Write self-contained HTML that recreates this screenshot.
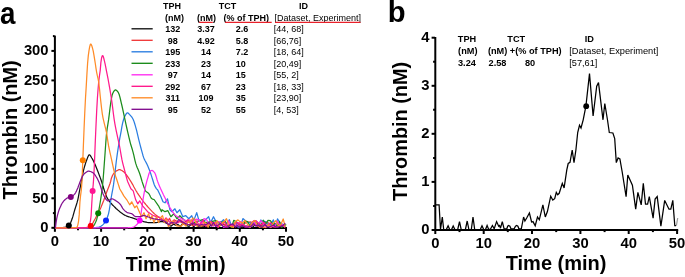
<!DOCTYPE html>
<html><head><meta charset="utf-8"><title>Thrombin generation</title>
<style>
html,body{margin:0;padding:0;background:#fff;}
svg{display:block;will-change:transform;font-family:"Liberation Sans",sans-serif;}
.tk{font-weight:bold;font-size:14.8px;fill:#000;}
.ax{font-weight:bold;font-size:19.6px;fill:#000;}
.lb{font-weight:bold;font-size:9px;fill:#000;}
.lr{font-size:9px;fill:#000;}
.pl{font-weight:bold;fill:#000;}
</style></head>
<body>
<svg width="685" height="277" viewBox="0 0 685 277">
<rect width="685" height="277" fill="#fff"/>
<!-- panel a -->
<text transform="translate(0.1,23.8) scale(0.925,1.035)" class="pl" font-size="30">a</text>
<path d="M54.9,35.6 V228.9" stroke="#000" stroke-width="2" fill="none"/>
<path d="M53.9,228.0 H287.0" stroke="#000" stroke-width="2" fill="none"/>
<path d="M51.4,227.8 H54.6" stroke="#000" stroke-width="2"/>
<text x="48.6" y="232.0" text-anchor="end" class="tk">0</text>
<path d="M51.4,198.3 H54.6" stroke="#000" stroke-width="2"/>
<text x="48.6" y="202.5" text-anchor="end" class="tk">50</text>
<path d="M51.4,168.8 H54.6" stroke="#000" stroke-width="2"/>
<text x="48.6" y="173.0" text-anchor="end" class="tk">100</text>
<path d="M51.4,139.3 H54.6" stroke="#000" stroke-width="2"/>
<text x="48.6" y="143.5" text-anchor="end" class="tk">150</text>
<path d="M51.4,109.9 H54.6" stroke="#000" stroke-width="2"/>
<text x="48.6" y="114.1" text-anchor="end" class="tk">200</text>
<path d="M51.4,80.4 H54.6" stroke="#000" stroke-width="2"/>
<text x="48.6" y="84.6" text-anchor="end" class="tk">250</text>
<path d="M51.4,50.9 H54.6" stroke="#000" stroke-width="2"/>
<text x="48.6" y="55.1" text-anchor="end" class="tk">300</text>
<path d="M52.9,213.1 H54.6" stroke="#000" stroke-width="2"/>
<path d="M52.9,183.6 H54.6" stroke="#000" stroke-width="2"/>
<path d="M52.9,154.1 H54.6" stroke="#000" stroke-width="2"/>
<path d="M52.9,124.6 H54.6" stroke="#000" stroke-width="2"/>
<path d="M52.9,95.1 H54.6" stroke="#000" stroke-width="2"/>
<path d="M52.9,65.6 H54.6" stroke="#000" stroke-width="2"/>
<path d="M52.9,36.1 H54.6" stroke="#000" stroke-width="2"/>
<path d="M54.9,228 V231.8" stroke="#000" stroke-width="2"/>
<text x="54.9" y="245.6" text-anchor="middle" class="tk">0</text>
<path d="M101.1,228 V231.8" stroke="#000" stroke-width="2"/>
<text x="101.1" y="245.6" text-anchor="middle" class="tk">10</text>
<path d="M147.3,228 V231.8" stroke="#000" stroke-width="2"/>
<text x="147.3" y="245.6" text-anchor="middle" class="tk">20</text>
<path d="M193.6,228 V231.8" stroke="#000" stroke-width="2"/>
<text x="193.6" y="245.6" text-anchor="middle" class="tk">30</text>
<path d="M239.8,228 V231.8" stroke="#000" stroke-width="2"/>
<text x="239.8" y="245.6" text-anchor="middle" class="tk">40</text>
<path d="M286.0,228 V231.8" stroke="#000" stroke-width="2"/>
<text x="286.0" y="245.6" text-anchor="middle" class="tk">50</text>
<path d="M78.0,228 V230.3" stroke="#000" stroke-width="2"/>
<path d="M124.2,228 V230.3" stroke="#000" stroke-width="2"/>
<path d="M170.4,228 V230.3" stroke="#000" stroke-width="2"/>
<path d="M216.7,228 V230.3" stroke="#000" stroke-width="2"/>
<path d="M262.9,228 V230.3" stroke="#000" stroke-width="2"/>
<g>
<path d="M55.4,227.8 L56.1,227.8 L56.8,227.8 L57.5,227.8 L58.2,227.8 L58.9,227.7 L59.6,227.7 L60.3,227.7 L61.0,227.7 L61.7,227.6 L62.4,227.6 L63.1,227.5 L63.8,227.4 L64.5,227.3 L65.2,227.2 L65.9,227.0 L66.6,226.8 L67.3,226.5 L68.0,226.2 L68.7,225.7 L69.4,224.9 L70.1,223.7 L70.8,222.2 L71.5,220.4 L72.2,218.6 L72.9,216.4 L73.6,213.9 L74.3,211.4 L75.0,209.0 L75.7,206.9 L76.4,204.7 L77.1,202.4 L77.8,199.8 L78.5,196.4 L79.2,192.6 L79.9,188.9 L80.6,185.5 L81.3,182.1 L82.0,178.3 L82.7,174.1 L83.4,170.9 L84.1,168.2 L84.8,165.7 L85.5,163.4 L86.2,161.3 L86.9,159.5 L87.6,157.6 L88.3,156.0 L89.0,154.9 L89.7,154.9 L90.4,155.7 L91.1,156.8 L91.8,158.0 L92.5,159.1 L93.2,160.5 L93.9,162.0 L94.6,163.5 L95.3,165.0 L96.0,166.7 L96.7,168.4 L97.4,170.2 L98.1,172.0 L98.8,173.9 L99.5,175.7 L100.2,177.6 L100.9,179.5 L101.6,181.6 L102.3,183.9 L103.0,186.3 L103.7,188.5 L104.4,190.6 L105.1,192.7 L105.8,194.6 L106.5,196.4 L107.2,197.9 L107.9,199.2 L108.6,200.3 L109.3,201.2 L110.0,202.1 L110.7,202.9 L111.4,203.7 L112.1,204.5 L112.8,205.2 L113.5,205.9 L114.2,206.6 L114.9,207.3 L115.6,208.0 L116.3,208.7 L117.0,209.3 L117.7,209.9 L118.4,210.6 L119.1,211.1 L119.8,211.7 L120.5,212.2 L121.2,212.8 L121.9,213.3 L122.6,213.8 L123.3,214.3 L124.0,214.7 L124.7,215.1 L125.4,215.5 L126.1,215.8 L126.8,216.1 L127.5,216.4 L128.2,216.6 L128.9,216.8 L129.6,217.0 L130.3,217.3 L131.0,217.5 L131.7,217.7 L132.4,217.9 L133.1,218.2 L133.8,218.4 L134.5,218.6 L135.2,218.9 L135.9,219.1 L136.6,219.3 L137.3,219.6 L138.0,219.8 L138.7,220.0 L139.4,220.3 L140.1,220.5 L140.8,220.8 L141.5,221.0 L142.2,221.2 L142.9,221.4 L143.6,221.6 L144.3,221.8 L145.0,221.9 L145.7,222.1 L146.4,222.2 L147.1,222.4 L147.8,222.5 L148.5,222.5 L149.2,222.6 L149.9,222.6 L150.6,222.6 L151.3,222.6 L152.0,222.6 L152.7,222.6 L153.4,222.6 L154.1,222.6 L154.8,222.6 L155.5,222.6 L156.2,222.6 L156.9,222.5 L157.6,222.3 L158.3,222.1 L159.0,222.0 L159.7,221.8 L160.4,221.7 L161.1,221.6 L161.8,221.6 L162.5,221.7 L163.2,221.8 L163.9,222.0 L164.6,222.3 L165.3,222.6 L166.0,222.9 L166.7,223.3 L167.4,223.9 L168.1,224.6 L168.8,225.3 L171.0,226.2 L173.5,224.1 L175.7,225.2 L177.9,224.6 L180.4,226.5 L182.4,224.0 L184.7,224.3 L186.6,225.6 L189.1,226.4 L191.7,223.9 L193.7,227.0 L196.0,223.8 L198.2,226.6 L200.4,227.1 L202.6,226.0 L204.9,226.7 L207.0,226.8 L209.2,226.7 L211.2,224.6 L213.5,225.5 L215.6,224.0 L218.2,227.3 L220.4,225.2 L222.8,224.3 L225.1,224.8 L227.5,226.8 L229.8,224.5 L232.4,226.1 L234.7,227.5 L236.9,224.9 L239.1,227.1 L241.4,225.3 L243.9,226.5 L246.1,226.0 L248.6,226.0 L250.8,226.1 L252.8,227.4 L255.2,224.1 L257.6,226.5 L259.7,226.1 L262.3,225.0 L264.6,224.6 L266.8,226.0 L269.4,225.8 L271.6,226.9 L274.0,224.2 L275.9,225.0 L278.5,224.5 L280.9,224.8 L283.2,225.8 L285.5,227.4" fill="none" stroke="#111111" stroke-width="1.25" stroke-linejoin="round"/>
<path d="M55.4,227.8 L56.1,227.8 L56.8,227.8 L57.5,227.8 L58.2,227.8 L58.9,227.8 L59.6,227.8 L60.3,227.8 L61.0,227.8 L61.7,227.8 L62.4,227.8 L63.1,227.8 L63.8,227.8 L64.5,227.8 L65.2,227.8 L65.9,227.8 L66.6,227.8 L67.3,227.8 L68.0,227.8 L68.7,227.8 L69.4,227.8 L70.1,227.8 L70.8,227.8 L71.5,227.8 L72.2,227.8 L72.9,227.8 L73.6,227.8 L74.3,227.8 L75.0,227.8 L75.7,227.8 L76.4,227.8 L77.1,227.8 L77.8,227.8 L78.5,227.8 L79.2,227.8 L79.9,227.8 L80.6,227.8 L81.3,227.8 L82.0,227.8 L82.7,227.7 L83.4,227.7 L84.1,227.7 L84.8,227.6 L85.5,227.5 L86.2,227.5 L86.9,227.4 L87.6,227.3 L88.3,227.1 L89.0,226.9 L89.7,226.6 L90.4,226.2 L91.1,225.7 L91.8,224.8 L92.5,223.7 L93.2,222.4 L93.9,221.0 L94.6,219.7 L95.3,218.5 L96.0,217.2 L96.7,215.9 L97.4,214.6 L98.1,213.2 L98.8,211.8 L99.5,210.4 L100.2,208.9 L100.9,207.4 L101.6,205.8 L102.3,204.1 L103.0,202.3 L103.7,200.5 L104.4,198.5 L105.1,196.6 L105.8,194.6 L106.5,192.6 L107.2,190.7 L107.9,188.9 L108.6,187.2 L109.3,185.4 L110.0,183.5 L110.7,181.2 L111.4,178.2 L112.1,176.4 L112.8,175.0 L113.5,173.8 L114.2,172.9 L114.9,172.1 L115.6,171.5 L116.3,171.0 L117.0,170.6 L117.7,170.2 L118.4,169.9 L119.1,169.7 L119.8,169.7 L120.5,169.9 L121.2,170.2 L121.9,170.5 L122.6,171.0 L123.3,171.5 L124.0,172.0 L124.7,172.7 L125.4,173.5 L126.1,174.5 L126.8,175.4 L127.5,176.4 L128.2,177.4 L128.9,178.4 L129.6,179.5 L130.3,180.6 L131.0,181.7 L131.7,182.9 L132.4,184.1 L133.1,185.3 L133.8,186.7 L134.5,188.0 L135.2,189.3 L135.9,190.5 L136.6,191.6 L137.3,192.8 L138.0,193.8 L138.7,194.9 L139.4,195.9 L140.1,196.9 L140.8,198.0 L141.5,199.0 L142.2,199.9 L142.9,200.9 L143.6,201.8 L144.3,202.7 L145.0,203.5 L145.7,204.4 L146.4,205.2 L147.1,206.0 L147.8,206.8 L148.5,207.6 L149.2,208.4 L149.9,209.1 L150.6,209.9 L151.3,210.6 L152.0,211.4 L152.7,212.1 L153.4,212.8 L154.1,213.5 L154.8,214.1 L155.5,214.7 L156.2,215.2 L156.9,215.7 L157.6,216.2 L158.3,216.7 L159.0,217.1 L159.7,217.6 L160.4,218.0 L161.1,218.4 L161.8,218.9 L162.5,219.4 L163.2,219.8 L163.9,220.3 L164.6,220.8 L165.3,221.2 L166.0,221.7 L166.7,222.1 L167.4,222.6 L169.5,218.3 L172.1,224.1 L174.1,219.7 L176.6,221.1 L178.8,221.7 L181.1,222.1 L183.2,223.2 L185.4,221.5 L188.1,220.0 L190.4,223.7 L192.5,225.9 L194.5,224.0 L196.7,224.7 L199.2,224.0 L201.6,225.9 L203.6,225.6 L205.6,224.7 L208.3,223.8 L210.3,222.3 L212.8,223.5 L215.4,223.3 L217.9,225.9 L220.6,221.8 L222.6,223.3 L225.1,225.3 L227.4,225.1 L230.0,225.1 L232.5,225.9 L235.1,222.3 L237.3,224.6 L239.9,223.6 L242.2,226.7 L244.4,223.7 L246.5,222.2 L248.6,222.2 L250.8,221.8 L253.2,225.0 L255.5,224.1 L257.9,226.2 L260.0,225.0 L262.6,224.3 L264.6,222.9 L267.1,222.2 L269.1,223.4 L271.1,224.1 L273.3,226.6 L275.8,227.2 L278.2,222.6 L280.3,226.7 L282.8,225.5 L285.3,227.4" fill="none" stroke="#f03c3c" stroke-width="1.25" stroke-linejoin="round"/>
<path d="M55.4,227.8 L56.1,227.8 L56.8,227.8 L57.5,227.8 L58.2,227.8 L58.9,227.8 L59.6,227.8 L60.3,227.8 L61.0,227.8 L61.7,227.8 L62.4,227.8 L63.1,227.8 L63.8,227.8 L64.5,227.8 L65.2,227.8 L65.9,227.8 L66.6,227.8 L67.3,227.8 L68.0,227.8 L68.7,227.8 L69.4,227.8 L70.1,227.8 L70.8,227.8 L71.5,227.8 L72.2,227.8 L72.9,227.8 L73.6,227.8 L74.3,227.8 L75.0,227.8 L75.7,227.8 L76.4,227.8 L77.1,227.8 L77.8,227.8 L78.5,227.8 L79.2,227.8 L79.9,227.8 L80.6,227.8 L81.3,227.8 L82.0,227.8 L82.7,227.8 L83.4,227.8 L84.1,227.8 L84.8,227.8 L85.5,227.8 L86.2,227.8 L86.9,227.8 L87.6,227.8 L88.3,227.8 L89.0,227.8 L89.7,227.8 L90.4,227.8 L91.1,227.8 L91.8,227.8 L92.5,227.7 L93.2,227.7 L93.9,227.7 L94.6,227.6 L95.3,227.6 L96.0,227.5 L96.7,227.4 L97.4,227.4 L98.1,227.3 L98.8,227.2 L99.5,227.0 L100.2,226.6 L100.9,226.2 L101.6,225.7 L102.3,225.2 L103.0,224.6 L103.7,223.9 L104.4,223.0 L105.1,222.1 L105.8,220.9 L106.5,219.6 L107.2,217.9 L107.9,215.8 L108.6,213.3 L109.3,209.9 L110.0,205.5 L110.7,200.9 L111.4,196.5 L112.1,192.7 L112.8,189.0 L113.5,184.9 L114.2,179.7 L114.9,173.5 L115.6,167.2 L116.3,161.2 L117.0,156.1 L117.7,151.2 L118.4,146.6 L119.1,142.3 L119.8,138.2 L120.5,134.6 L121.2,130.9 L121.9,126.7 L122.6,123.2 L123.3,120.5 L124.0,118.1 L124.7,116.4 L125.4,115.1 L126.1,114.0 L126.8,113.1 L127.5,112.8 L128.2,113.1 L128.9,113.8 L129.6,114.6 L130.3,115.3 L131.0,116.1 L131.7,116.9 L132.4,118.0 L133.1,119.2 L133.8,120.9 L134.5,123.0 L135.2,125.4 L135.9,127.8 L136.6,130.4 L137.3,133.4 L138.0,136.4 L138.7,139.3 L139.4,142.1 L140.1,144.8 L140.8,147.5 L141.5,150.1 L142.2,152.7 L142.9,155.2 L143.6,157.4 L144.3,159.1 L145.0,160.5 L145.7,161.8 L146.4,163.1 L147.1,164.6 L147.8,166.1 L148.5,167.8 L149.2,169.5 L149.9,171.3 L150.6,173.3 L151.3,175.4 L152.0,177.6 L152.7,179.7 L153.4,182.0 L154.1,184.2 L154.8,185.9 L155.5,187.2 L156.2,188.3 L156.9,189.2 L157.6,189.7 L160.6,196.0 L163.0,201.8 L165.0,202.8 L167.5,198.8 L169.9,209.7 L171.9,211.7 L174.9,208.8 L176.9,212.7 L179.8,209.7 L182.8,216.7 L185.8,215.7 L188.8,218.7 L191.7,215.7 L193.7,220.6 L196.7,212.7 L198.7,219.7 L201.6,221.6 L204.6,220.6 L208.6,216.7 L210.6,222.6 L213.5,216.7 L216.5,222.6 L219.5,223.6 L223.5,219.7 L226.4,223.6 L229.4,219.7 L231.5,226.1 L233.8,225.0 L236.2,222.6 L238.2,227.5 L240.7,225.9 L242.9,218.6 L245.1,220.4 L247.4,222.5 L249.5,222.5 L252.0,223.6 L254.5,222.1 L256.5,221.2 L258.9,225.6 L260.8,220.0 L263.1,221.6 L265.7,221.7 L268.3,224.8 L270.8,224.4 L273.4,219.9 L275.4,226.8 L277.5,218.9 L279.8,222.6 L281.9,223.8 L284.1,225.2" fill="none" stroke="#2a7de1" stroke-width="1.25" stroke-linejoin="round"/>
<path d="M55.4,227.8 L56.1,227.8 L56.8,227.8 L57.5,227.8 L58.2,227.8 L58.9,227.8 L59.6,227.8 L60.3,227.8 L61.0,227.8 L61.7,227.8 L62.4,227.8 L63.1,227.8 L63.8,227.8 L64.5,227.8 L65.2,227.8 L65.9,227.8 L66.6,227.8 L67.3,227.8 L68.0,227.8 L68.7,227.8 L69.4,227.8 L70.1,227.8 L70.8,227.8 L71.5,227.8 L72.2,227.8 L72.9,227.8 L73.6,227.8 L74.3,227.8 L75.0,227.8 L75.7,227.8 L76.4,227.8 L77.1,227.8 L77.8,227.8 L78.5,227.8 L79.2,227.8 L79.9,227.8 L80.6,227.8 L81.3,227.8 L82.0,227.8 L82.7,227.8 L83.4,227.8 L84.1,227.8 L84.8,227.8 L85.5,227.8 L86.2,227.8 L86.9,227.7 L87.6,227.7 L88.3,227.6 L89.0,227.5 L89.7,227.3 L90.4,227.2 L91.1,227.0 L91.8,226.8 L92.5,226.6 L93.2,226.2 L93.9,225.4 L94.6,224.3 L95.3,222.8 L96.0,221.2 L96.7,219.4 L97.4,216.9 L98.1,213.8 L98.8,210.4 L99.5,206.5 L100.2,202.3 L100.9,197.9 L101.6,193.1 L102.3,187.6 L103.0,180.7 L103.7,171.9 L104.4,162.3 L105.1,152.7 L105.8,142.5 L106.5,133.9 L107.2,128.4 L107.9,124.2 L108.6,119.7 L109.3,114.1 L110.0,108.2 L110.7,103.2 L111.4,98.8 L112.1,95.2 L112.8,93.2 L113.5,91.9 L114.2,90.8 L114.9,90.1 L115.6,89.9 L116.3,90.2 L117.0,90.8 L117.7,91.7 L118.4,92.7 L119.1,94.2 L119.8,96.6 L120.5,99.5 L121.2,102.6 L121.9,105.5 L122.6,108.6 L123.3,111.9 L124.0,115.2 L124.7,118.4 L125.4,121.6 L126.1,124.8 L126.8,128.0 L127.5,131.1 L128.2,134.1 L128.9,137.1 L129.6,140.0 L130.3,142.8 L131.0,145.2 L131.7,147.5 L132.4,149.8 L133.1,152.3 L133.8,155.2 L134.5,158.3 L135.2,161.3 L135.9,163.9 L136.6,165.9 L137.3,167.7 L138.0,169.3 L138.7,171.0 L139.4,172.7 L140.1,174.7 L140.8,177.0 L141.5,179.5 L142.2,181.9 L142.9,184.0 L143.6,186.0 L144.3,188.1 L145.0,189.8 L145.7,191.1 L146.4,191.8 L147.1,192.3 L147.8,192.8 L148.5,193.3 L149.2,194.2 L149.9,195.5 L150.6,197.0 L151.3,198.2 L152.0,198.8 L152.7,199.1 L153.4,199.4 L154.1,199.5 L158.5,205.8 L161.5,211.7 L162.0,209.7 L165.0,211.7 L167.9,210.7 L170.9,216.7 L173.9,213.7 L176.9,218.7 L179.8,215.7 L183.8,219.7 L187.8,221.6 L193.7,222.6 L199.7,220.6 L202.6,219.7 L205.6,222.6 L211.6,221.6 L215.5,220.6 L219.5,222.6 L225.4,221.6 L227.5,226.3 L229.5,225.1 L231.6,227.3 L233.8,220.3 L236.3,221.9 L238.4,223.9 L240.6,226.7 L242.6,226.4 L245.2,221.2 L247.7,221.5 L249.8,225.8 L252.2,222.2 L254.7,220.7 L256.8,223.3 L259.2,224.2 L261.2,224.5 L263.3,220.2 L265.8,223.8 L268.0,220.4 L270.3,220.7 L272.9,224.2 L275.1,223.4 L277.4,226.8 L279.5,221.4 L281.5,227.4 L283.9,226.0 L286.2,224.5" fill="none" stroke="#1c8c1c" stroke-width="1.25" stroke-linejoin="round"/>
<path d="M55.4,227.8 L56.1,227.8 L56.8,227.8 L57.5,227.8 L58.2,227.8 L58.9,227.8 L59.6,227.8 L60.3,227.8 L61.0,227.8 L61.7,227.8 L62.4,227.8 L63.1,227.8 L63.8,227.8 L64.5,227.8 L65.2,227.8 L65.9,227.8 L66.6,227.8 L67.3,227.8 L68.0,227.8 L68.7,227.8 L69.4,227.8 L70.1,227.8 L70.8,227.8 L71.5,227.8 L72.2,227.8 L72.9,227.8 L73.6,227.8 L74.3,227.8 L75.0,227.8 L75.7,227.8 L76.4,227.8 L77.1,227.8 L77.8,227.8 L78.5,227.8 L79.2,227.8 L79.9,227.8 L80.6,227.8 L81.3,227.8 L82.0,227.8 L82.7,227.8 L83.4,227.8 L84.1,227.8 L84.8,227.8 L85.5,227.8 L86.2,227.8 L86.9,227.8 L87.6,227.8 L88.3,227.8 L89.0,227.8 L89.7,227.8 L90.4,227.8 L91.1,227.8 L91.8,227.8 L92.5,227.8 L93.2,227.8 L93.9,227.8 L94.6,227.8 L95.3,227.8 L96.0,227.8 L96.7,227.8 L97.4,227.8 L98.1,227.8 L98.8,227.8 L99.5,227.8 L100.2,227.8 L100.9,227.8 L101.6,227.8 L102.3,227.8 L103.0,227.8 L103.7,227.8 L104.4,227.8 L105.1,227.8 L105.8,227.8 L106.5,227.8 L107.2,227.8 L107.9,227.8 L108.6,227.8 L109.3,227.8 L110.0,227.8 L110.7,227.8 L111.4,227.8 L112.1,227.8 L112.8,227.8 L113.5,227.8 L114.2,227.8 L114.9,227.8 L115.6,227.8 L116.3,227.8 L117.0,227.8 L117.7,227.8 L118.4,227.8 L119.1,227.8 L119.8,227.8 L120.5,227.8 L121.2,227.8 L121.9,227.8 L122.6,227.8 L123.3,227.8 L124.0,227.8 L124.7,227.8 L125.4,227.8 L126.1,227.8 L126.8,227.8 L127.5,227.8 L128.2,227.7 L128.9,227.7 L129.6,227.7 L130.3,227.6 L131.0,227.6 L131.7,227.5 L132.4,227.4 L133.1,227.3 L133.8,227.0 L134.5,226.6 L135.2,226.0 L135.9,225.4 L136.6,224.7 L137.3,224.0 L138.0,223.3 L138.7,222.4 L139.4,221.2 L140.1,219.2 L140.8,215.1 L141.5,210.3 L142.2,205.6 L142.9,200.5 L143.6,195.9 L144.3,192.1 L145.0,188.7 L145.7,185.6 L146.4,182.8 L147.1,180.2 L147.8,177.8 L148.5,175.3 L149.2,173.0 L149.9,171.7 L150.6,171.0 L151.3,170.5 L152.0,170.4 L152.7,170.7 L153.4,171.3 L154.1,172.1 L154.8,172.9 L155.5,174.5 L156.2,176.7 L156.9,179.2 L157.6,181.4 L158.3,183.3 L159.0,185.0 L159.7,186.7 L160.4,188.3 L161.1,189.8 L161.8,191.3 L162.5,192.8 L163.2,194.3 L163.9,195.7 L164.6,197.1 L165.3,198.6 L166.0,200.1 L166.7,201.5 L167.4,202.9 L168.1,204.2 L168.8,205.5 L169.5,206.7 L170.2,208.0 L170.9,209.2 L171.6,210.3 L172.3,211.3 L173.0,212.3 L173.7,213.3 L174.4,214.2 L175.1,215.0 L175.8,215.6 L176.5,216.1 L177.2,216.5 L177.9,216.8 L178.6,217.1 L179.3,217.5 L180.0,217.8 L180.7,218.2 L181.4,218.5 L182.1,218.9 L182.8,219.2 L183.5,219.6 L184.2,219.9 L184.9,220.2 L185.6,220.5 L186.3,220.8 L187.0,221.1 L187.7,221.3 L188.4,221.6 L189.1,221.8 L189.8,222.0 L190.5,222.3 L191.2,222.5 L194.0,220.2 L196.5,219.1 L199.1,219.9 L201.7,224.8 L203.9,218.7 L206.3,219.3 L208.4,223.1 L210.5,222.8 L212.9,226.2 L215.0,225.1 L217.5,221.8 L219.6,221.8 L221.7,223.5 L223.7,227.5 L226.3,226.6 L228.4,220.7 L230.9,226.1 L233.5,224.4 L236.0,226.6 L238.6,223.2 L241.2,221.5 L243.3,225.6 L245.4,226.9 L247.4,226.0 L249.8,227.5 L252.2,225.8 L254.4,222.1 L256.7,225.9 L259.0,223.1 L260.9,220.7 L262.9,222.7 L265.5,227.5 L268.0,225.6 L270.3,227.5 L272.3,226.7 L274.9,226.7 L277.4,221.1 L280.0,225.7 L282.2,224.5 L284.7,227.1" fill="none" stroke="#ff2cf0" stroke-width="1.25" stroke-linejoin="round"/>
<path d="M55.4,227.8 L56.1,227.8 L56.8,227.8 L57.5,227.8 L58.2,227.8 L58.9,227.8 L59.6,227.8 L60.3,227.8 L61.0,227.8 L61.7,227.8 L62.4,227.8 L63.1,227.8 L63.8,227.8 L64.5,227.8 L65.2,227.8 L65.9,227.8 L66.6,227.8 L67.3,227.8 L68.0,227.8 L68.7,227.8 L69.4,227.8 L70.1,227.8 L70.8,227.8 L71.5,227.8 L72.2,227.8 L72.9,227.8 L73.6,227.8 L74.3,227.8 L75.0,227.8 L75.7,227.8 L76.4,227.8 L77.1,227.8 L77.8,227.8 L78.5,227.8 L79.2,227.8 L79.9,227.8 L80.6,227.8 L81.3,227.8 L82.0,227.8 L82.7,227.8 L83.4,227.7 L84.1,227.7 L84.8,227.7 L85.5,227.6 L86.2,227.6 L86.9,227.5 L87.6,227.4 L88.3,227.0 L89.0,225.8 L89.7,223.8 L90.4,221.1 L91.1,215.6 L91.8,203.1 L92.5,192.2 L93.2,184.7 L93.9,175.0 L94.6,159.1 L95.3,141.3 L96.0,125.5 L96.7,110.6 L97.4,98.3 L98.1,88.7 L98.8,80.9 L99.5,75.5 L100.2,70.6 L100.9,62.4 L101.6,57.8 L102.3,55.7 L103.0,55.8 L103.7,58.0 L104.4,60.9 L105.1,63.9 L105.8,67.4 L106.5,71.1 L107.2,74.6 L107.9,78.2 L108.6,82.0 L109.3,85.9 L110.0,89.9 L110.7,94.1 L111.4,98.5 L112.1,103.4 L112.8,108.9 L113.5,114.5 L114.2,119.7 L114.9,123.9 L115.6,127.7 L116.3,131.1 L117.0,134.4 L117.7,137.7 L118.4,140.8 L119.1,144.0 L119.8,147.5 L120.5,151.5 L121.2,155.7 L121.9,159.4 L122.6,162.6 L123.3,165.4 L124.0,168.0 L124.7,170.7 L125.4,173.3 L126.1,176.0 L126.8,178.6 L127.5,181.2 L130.9,188.7 L133.2,190.9 L135.7,199.8 L137.7,203.8 L139.7,200.8 L142.6,205.8 L147.6,211.7 L153.5,215.7 L159.5,217.7 L164.0,220.5 L166.0,217.8 L168.5,220.5 L170.7,223.5 L173.1,221.1 L175.5,222.0 L178.0,222.9 L180.5,219.8 L182.8,221.5 L185.2,224.1 L187.5,219.9 L189.7,220.1 L192.1,220.0 L194.3,225.5 L196.8,220.8 L199.1,226.0 L201.2,222.6 L203.3,220.2 L205.7,226.1 L208.1,225.4 L210.7,221.3 L213.0,223.5 L215.4,222.2 L218.1,227.4 L220.3,223.9 L222.4,224.0 L224.4,221.6 L226.8,227.1 L229.2,226.0 L231.3,224.8 L233.3,226.6 L235.9,223.1 L237.8,222.4 L239.8,225.8 L242.4,223.7 L244.5,225.5 L246.8,227.0 L249.4,227.3 L251.7,222.7 L253.9,220.7 L256.0,220.7 L258.6,223.3 L261.2,225.0 L263.7,222.3 L266.0,224.9 L268.4,225.3 L270.4,222.7 L272.6,224.7 L275.1,226.8 L277.1,227.0 L279.4,225.6 L281.5,225.0 L284.1,226.3" fill="none" stroke="#ff1a8c" stroke-width="1.25" stroke-linejoin="round"/>
<path d="M55.4,227.8 L56.1,227.8 L56.8,227.8 L57.5,227.8 L58.2,227.8 L58.9,227.8 L59.6,227.8 L60.3,227.8 L61.0,227.8 L61.7,227.8 L62.4,227.8 L63.1,227.8 L63.8,227.8 L64.5,227.8 L65.2,227.8 L65.9,227.8 L66.6,227.8 L67.3,227.8 L68.0,227.8 L68.7,227.8 L69.4,227.8 L70.1,227.8 L70.8,227.8 L71.5,227.8 L72.2,227.8 L72.9,227.7 L73.6,227.7 L74.3,227.7 L75.0,227.6 L75.7,227.5 L76.4,227.5 L77.1,227.1 L77.8,225.1 L78.5,221.6 L79.2,214.9 L79.9,202.5 L80.6,195.3 L81.3,190.2 L82.0,181.4 L82.7,162.9 L83.4,144.9 L84.1,127.8 L84.8,111.9 L85.5,98.0 L86.2,86.9 L86.9,74.4 L87.6,63.2 L88.3,55.6 L89.0,50.6 L89.7,46.7 L90.4,44.2 L91.1,44.2 L91.8,45.8 L92.5,48.1 L93.2,50.9 L93.9,54.8 L94.6,59.1 L95.3,63.5 L96.0,68.3 L96.7,72.6 L97.4,75.9 L98.1,78.8 L98.8,82.7 L99.5,88.8 L100.2,96.0 L100.9,102.4 L101.6,108.5 L102.3,113.8 L103.0,117.8 L103.7,120.9 L104.4,123.8 L105.1,126.6 L105.8,129.3 L106.5,132.5 L107.2,136.8 L107.9,141.6 L108.6,145.9 L109.3,149.4 L110.0,152.7 L110.7,155.7 L111.4,158.8 L112.1,162.0 L112.8,165.3 L113.5,168.5 L114.2,171.5 L114.9,174.0 L115.6,176.2 L116.3,178.2 L117.0,180.3 L117.7,182.5 L118.4,184.6 L119.1,186.8 L119.8,189.0 L122.0,192.6 L123.8,195.9 L126.8,199.8 L129.7,204.8 L131.7,201.8 L134.7,207.8 L136.7,205.8 L139.7,212.7 L141.6,216.7 L144.0,212.7 L146.0,218.7 L148.6,213.7 L150.6,219.7 L152.0,215.7 L153.9,222.6 L156.5,216.7 L158.5,222.6 L160.5,217.7 L162.5,215.7 L164.4,222.6 L166.4,218.7 L168.4,226.6 L170.5,223.9 L172.6,220.9 L174.6,222.2 L176.8,226.0 L179.1,226.2 L181.3,226.1 L183.3,223.5 L185.9,226.0 L188.0,221.7 L190.6,222.3 L192.8,218.1 L194.8,219.5 L197.0,226.3 L199.0,225.1 L201.5,226.2 L203.9,222.2 L206.1,223.2 L208.1,227.2 L210.2,222.0 L212.4,225.5 L214.8,224.3 L217.0,220.8 L219.4,226.1 L221.7,223.6 L224.3,221.5 L226.5,218.7 L228.5,224.6 L231.0,226.7 L233.3,227.4 L235.7,221.2 L238.0,219.9 L240.2,221.9 L242.6,223.1 L244.8,220.3 L247.4,224.1 L249.9,227.3 L252.3,222.4 L254.9,220.5 L257.1,224.9 L259.5,227.4 L261.8,226.6 L263.8,227.3 L266.3,226.9 L268.4,224.8 L271.0,227.2 L273.2,223.4 L275.8,220.6 L278.4,225.8 L280.6,225.1 L283.2,219.0 L285.2,226.6" fill="none" stroke="#ff8c28" stroke-width="1.25" stroke-linejoin="round"/>
<path d="M55.4,227.8 L56.1,222.5 L56.8,218.2 L57.5,215.1 L58.2,212.6 L58.9,210.4 L59.6,208.5 L60.3,206.9 L61.0,205.4 L61.7,204.0 L62.4,202.8 L63.1,201.8 L63.8,200.9 L64.5,200.2 L65.2,199.5 L65.9,198.9 L66.6,198.4 L67.3,198.0 L68.0,197.7 L68.7,197.5 L69.4,197.3 L70.1,197.1 L70.8,196.9 L71.5,196.6 L72.2,196.2 L72.9,195.7 L73.6,195.1 L74.3,194.4 L75.0,193.7 L75.7,192.5 L76.4,191.1 L77.1,189.5 L77.8,187.9 L78.5,186.1 L79.2,184.2 L79.9,182.3 L80.6,180.5 L81.3,178.7 L82.0,177.2 L82.7,176.0 L83.4,174.8 L84.1,173.9 L84.8,173.2 L85.5,172.7 L86.2,172.2 L86.9,171.8 L87.6,171.4 L88.3,171.2 L89.0,171.2 L89.7,171.3 L90.4,171.5 L91.1,171.8 L91.8,172.1 L92.5,172.5 L93.2,172.9 L93.9,173.6 L94.6,174.4 L95.3,175.4 L96.0,176.5 L96.7,177.6 L97.4,178.8 L98.1,180.2 L98.8,181.8 L99.5,183.5 L100.2,185.4 L100.9,187.6 L101.6,189.8 L102.3,191.8 L103.0,193.7 L103.7,195.3 L104.4,196.6 L105.1,197.8 L105.8,199.0 L106.5,199.9 L107.2,200.6 L107.9,200.8 L108.6,200.6 L109.3,200.2 L110.0,199.7 L110.7,199.2 L111.4,198.9 L112.1,198.8 L112.8,199.0 L113.5,199.3 L114.2,199.7 L114.9,200.1 L115.6,200.6 L116.3,201.0 L117.0,201.5 L117.7,202.0 L118.4,202.5 L119.1,203.1 L119.8,203.8 L120.5,204.7 L121.2,205.7 L121.9,206.9 L122.6,208.1 L123.3,209.1 L124.0,209.9 L124.7,210.6 L125.4,211.2 L126.1,211.7 L126.8,212.2 L127.5,212.6 L128.2,212.8 L128.9,213.0 L129.6,213.2 L130.3,213.3 L131.0,213.5 L131.7,213.7 L132.4,214.1 L133.1,214.8 L133.8,215.5 L134.5,216.1 L135.2,216.6 L135.9,216.7 L136.6,216.7 L137.3,216.7 L138.0,216.7 L138.7,216.7 L139.4,216.7 L140.1,216.7 L140.8,216.5 L141.5,216.2 L142.2,215.9 L142.9,215.6 L143.6,215.5 L144.3,215.6 L145.0,215.7 L145.7,216.0 L146.4,216.3 L147.1,216.5 L147.8,216.8 L148.5,217.0 L149.2,217.3 L149.9,217.5 L150.6,217.8 L151.3,218.0 L152.0,218.3 L152.7,218.5 L153.4,218.7 L154.1,218.8 L154.8,219.0 L155.5,219.1 L156.2,219.2 L156.9,219.3 L157.6,219.4 L158.3,219.5 L159.0,219.6 L159.7,219.7 L160.4,219.9 L161.1,220.1 L161.8,220.3 L162.5,220.5 L163.2,220.7 L163.9,220.9 L164.6,221.2 L165.3,221.6 L166.0,222.0 L166.7,222.5 L167.4,223.2 L168.1,224.0 L168.8,224.8 L171.5,222.3 L174.1,222.9 L176.6,223.3 L178.7,219.2 L180.8,221.3 L183.1,222.4 L185.4,223.7 L187.9,224.3 L190.0,224.6 L192.1,223.5 L194.7,223.8 L196.7,224.5 L199.4,225.4 L201.8,224.5 L204.2,224.8 L206.6,224.3 L209.0,222.4 L211.4,226.2 L213.4,222.6 L215.7,226.4 L218.3,225.0 L220.7,223.6 L222.9,226.3 L225.4,227.2 L227.9,227.3 L230.4,224.7 L233.0,223.9 L235.3,227.0 L237.3,225.5 L239.6,227.4 L242.2,225.6 L244.7,226.9 L246.8,227.5 L249.0,226.7 L251.2,226.2 L253.7,223.6 L255.8,226.1 L257.9,224.9 L260.5,226.9 L263.0,226.6 L265.0,224.3 L267.2,227.0 L269.4,226.8 L271.7,225.9 L273.9,225.2 L276.0,227.3 L278.1,227.3 L280.4,226.3 L282.9,225.6 L285.3,223.1" fill="none" stroke="#831090" stroke-width="1.25" stroke-linejoin="round"/>
<circle cx="68.8" cy="225.6" r="3.0" fill="#000000"/>
<circle cx="90.7" cy="226.0" r="3.0" fill="#ff0000"/>
<circle cx="106.0" cy="220.6" r="3.0" fill="#0a28ff"/>
<circle cx="98.2" cy="213.3" r="3.0" fill="#008000"/>
<circle cx="139.7" cy="220.6" r="3.0" fill="#ff00ff"/>
<circle cx="92.6" cy="190.9" r="3.0" fill="#ff1493"/>
<circle cx="82.8" cy="160.3" r="3.0" fill="#ff8000"/>
<circle cx="70.8" cy="196.9" r="3.0" fill="#800080"/>
</g>
<text transform="translate(17.2,199.5) rotate(-90)" class="ax" style="font-size:19.9px">Thrombin (nM)</text>
<text x="175.7" y="270.6" text-anchor="middle" class="ax" style="font-size:19.8px">Time (min)</text>
<!-- legend a -->
<text x="172" y="9.2" text-anchor="middle" class="lb">TPH</text>
<text x="174.5" y="21.1" text-anchor="middle" class="lb">(nM)</text>
<text x="227.6" y="9.2" text-anchor="middle" class="lb">TCT</text>
<text x="206.4" y="21.1" text-anchor="middle" class="lb">(nM)</text>
<text x="246.3" y="21.1" text-anchor="middle" class="lb">(% of TPH)</text>
<text x="303.4" y="9.2" text-anchor="middle" class="lb">ID</text>
<text x="274.4" y="21.1" class="lr">[Dataset, Experiment]</text>
<path d="M199.1,22.4 H212.8 M225.1,22.4 H271.7 M275,22.4 H360.5" stroke="#e8202a" stroke-width="1.3"/>
<path d="M131.5,28.8 H152.7" stroke="#111111" stroke-width="1.35"/>
<text x="172.7" y="32.0" text-anchor="middle" class="lb">132</text>
<text x="205.9" y="32.0" text-anchor="middle" class="lb">3.37</text>
<text x="235.7" y="32.0" class="lb">2.6</text>
<text x="273.8" y="32.0" class="lr">[44, 68]</text>
<path d="M131.5,40.3 H152.7" stroke="#f03c3c" stroke-width="1.35"/>
<text x="172.7" y="43.5" text-anchor="middle" class="lb">98</text>
<text x="205.9" y="43.5" text-anchor="middle" class="lb">4.92</text>
<text x="235.7" y="43.5" class="lb">5.8</text>
<text x="273.8" y="43.5" class="lr">[66,76]</text>
<path d="M131.5,51.8 H152.7" stroke="#2a7de1" stroke-width="1.35"/>
<text x="172.7" y="55.0" text-anchor="middle" class="lb">195</text>
<text x="205.9" y="55.0" text-anchor="middle" class="lb">14</text>
<text x="235.7" y="55.0" class="lb">7.2</text>
<text x="273.8" y="55.0" class="lr">[18, 64]</text>
<path d="M131.5,63.3 H152.7" stroke="#1c8c1c" stroke-width="1.35"/>
<text x="172.7" y="66.5" text-anchor="middle" class="lb">233</text>
<text x="205.9" y="66.5" text-anchor="middle" class="lb">23</text>
<text x="235.7" y="66.5" class="lb">10</text>
<text x="273.8" y="66.5" class="lr">[20,49]</text>
<path d="M131.5,74.8 H152.7" stroke="#ff2cf0" stroke-width="1.35"/>
<text x="172.7" y="78.0" text-anchor="middle" class="lb">97</text>
<text x="205.9" y="78.0" text-anchor="middle" class="lb">14</text>
<text x="235.7" y="78.0" class="lb">15</text>
<text x="273.8" y="78.0" class="lr">[55, 2]</text>
<path d="M131.5,86.3 H152.7" stroke="#ff1a8c" stroke-width="1.35"/>
<text x="172.7" y="89.5" text-anchor="middle" class="lb">292</text>
<text x="205.9" y="89.5" text-anchor="middle" class="lb">67</text>
<text x="235.7" y="89.5" class="lb">23</text>
<text x="273.8" y="89.5" class="lr">[18, 33]</text>
<path d="M131.5,97.8 H152.7" stroke="#ff8c28" stroke-width="1.35"/>
<text x="172.7" y="101.0" text-anchor="middle" class="lb">311</text>
<text x="205.9" y="101.0" text-anchor="middle" class="lb">109</text>
<text x="235.7" y="101.0" class="lb">35</text>
<text x="273.8" y="101.0" class="lr">[23,90]</text>
<path d="M131.5,109.3 H152.7" stroke="#831090" stroke-width="1.35"/>
<text x="172.7" y="112.5" text-anchor="middle" class="lb">95</text>
<text x="205.9" y="112.5" text-anchor="middle" class="lb">52</text>
<text x="235.7" y="112.5" class="lb">55</text>
<text x="273.8" y="112.5" class="lr">[4, 53]</text>
<!-- panel b -->
<text x="387.8" y="21.6" class="pl" font-size="29.2">b</text>
<path d="M435.3,37 V231" stroke="#000" stroke-width="2" fill="none"/>
<path d="M434.3,230 H678.2" stroke="#000" stroke-width="2" fill="none"/>
<path d="M431.6,230.0 H435" stroke="#000" stroke-width="2"/>
<text x="429.4" y="234.0" text-anchor="end" class="tk">0</text>
<path d="M431.6,181.9 H435" stroke="#000" stroke-width="2"/>
<text x="429.4" y="185.9" text-anchor="end" class="tk">1</text>
<path d="M431.6,133.8 H435" stroke="#000" stroke-width="2"/>
<text x="429.4" y="137.8" text-anchor="end" class="tk">2</text>
<path d="M431.6,85.8 H435" stroke="#000" stroke-width="2"/>
<text x="429.4" y="89.8" text-anchor="end" class="tk">3</text>
<path d="M431.6,37.7 H435" stroke="#000" stroke-width="2"/>
<text x="429.4" y="41.7" text-anchor="end" class="tk">4</text>
<path d="M433.1,206.0 H435" stroke="#000" stroke-width="2"/>
<path d="M433.1,157.9 H435" stroke="#000" stroke-width="2"/>
<path d="M433.1,109.8 H435" stroke="#000" stroke-width="2"/>
<path d="M433.1,61.7 H435" stroke="#000" stroke-width="2"/>
<path d="M435.3,230 V234" stroke="#000" stroke-width="2"/>
<text x="435.3" y="247.8" text-anchor="middle" class="tk">0</text>
<path d="M483.7,230 V234" stroke="#000" stroke-width="2"/>
<text x="483.7" y="247.8" text-anchor="middle" class="tk">10</text>
<path d="M532.0,230 V234" stroke="#000" stroke-width="2"/>
<text x="532.0" y="247.8" text-anchor="middle" class="tk">20</text>
<path d="M580.4,230 V234" stroke="#000" stroke-width="2"/>
<text x="580.4" y="247.8" text-anchor="middle" class="tk">30</text>
<path d="M628.7,230 V234" stroke="#000" stroke-width="2"/>
<text x="628.7" y="247.8" text-anchor="middle" class="tk">40</text>
<path d="M677.1,230 V234" stroke="#000" stroke-width="2"/>
<text x="677.1" y="247.8" text-anchor="middle" class="tk">50</text>
<path d="M459.5,230 V232.1" stroke="#000" stroke-width="2"/>
<path d="M507.8,230 V232.1" stroke="#000" stroke-width="2"/>
<path d="M556.2,230 V232.1" stroke="#000" stroke-width="2"/>
<path d="M604.6,230 V232.1" stroke="#000" stroke-width="2"/>
<path d="M652.9,230 V232.1" stroke="#000" stroke-width="2"/>
<path d="M435.3,204.8 L439.1,204.8 L440.5,229.5 L442.3,217.0 L443.7,229.5 L446.3,229.5 L448.1,225.7 L449.7,229.5 L451.5,229.5 L453.2,226.0 L454.9,229.5 L457.7,229.5 L459.5,221.6 L461.2,229.5 L465.4,229.5 L467.2,221.0 L468.9,229.5 L471.3,229.5 L473.0,217.0 L474.7,229.5 L480.3,229.5 L482.0,225.7 L483.7,229.5 L485.5,229.5 L487.1,225.5 L488.7,229.5 L490.5,229.0 L492.4,225.5 L494.2,228.8 L496.6,221.6 L498.7,226.3 L499.6,225.5 L500.5,228.2 L502.3,221.6 L504.1,228.8 L506.8,228.8 L507.7,226.2 L508.6,225.5 L509.9,226.2 L511.0,228.8 L514.1,228.8 L515.5,226.2 L516.7,225.5 L517.9,226.2 L518.9,228.8 L521.3,228.8 L523.6,217.0 L524.9,221.0 L526.7,218.0 L529.4,213.0 L531.6,222.0 L533.0,221.6 L535.2,225.7 L537.5,217.0 L539.3,219.8 L542.9,204.8 L545.3,217.0 L547.4,211.6 L550.7,196.2 L552.8,200.0 L554.7,198.7 L556.3,192.4 L557.7,194.7 L559.2,193.3 L562.3,183.4 L564.1,187.9 L566.8,169.8 L568.2,163.5 L570.0,162.3 L572.2,150.0 L574.0,162.6 L575.9,150.0 L577.7,132.5 L579.5,125.3 L581.0,128.0 L583.2,119.8 L585.9,106.2 L589.5,73.6 L593.1,116.0 L596.7,86.2 L598.5,82.6 L603.0,119.8 L604.8,103.5 L607.5,120.0 L609.3,132.5 L612.9,133.0 L614.7,138.5 L616.3,162.6 L618.1,158.0 L619.9,159.0 L622.2,172.0 L626.1,196.6 L627.8,175.1 L632.4,185.2 L635.7,209.2 L637.9,192.3 L641.2,204.9 L643.3,183.2 L645.5,204.2 L647.6,204.2 L649.3,196.6 L653.1,218.1 L655.1,199.1 L657.2,196.6 L660.9,226.2 L664.7,200.4 L669.0,209.2 L670.8,209.2 L672.8,200.4 L674.8,225.7 L676.1,225.7" fill="none" stroke="#000" stroke-width="1.25" stroke-linejoin="miter" stroke-miterlimit="3"/>
<path d="M676.4,225.7 L677.7,218" fill="none" stroke="#999" stroke-width="1.2"/>
<circle cx="586.2" cy="106.2" r="2.9" fill="#000"/>
<text transform="translate(406.8,201.0) rotate(-90)" class="ax" style="font-size:19.9px">Thrombin (nM)</text>
<text x="556.1" y="269.8" text-anchor="middle" class="ax" style="font-size:20px">Time (min)</text>
<text x="457.8" y="42.45" class="lb" style="font-size:9.2px">TPH</text>
<text x="458.1" y="54.4" class="lb" style="font-size:9.2px">(nM)</text>
<text x="516.2" y="42.45" text-anchor="middle" class="lb" style="font-size:9.2px">TCT</text>
<text x="487.9" y="54.4" class="lb" style="font-size:9.2px">(nM) +(% of TPH)</text>
<text x="589.3" y="42.45" text-anchor="middle" class="lb" style="font-size:9.2px">ID</text>
<text x="569.3" y="54.4" class="lr" style="font-size:9.27px">[Dataset, Experiment]</text>
<text x="458.0" y="66.2" class="lb" style="font-size:9.2px">3.24</text>
<text x="488.6" y="66.2" class="lb" style="font-size:9.2px">2.58</text>
<text x="530" y="66.2" text-anchor="middle" class="lb" style="font-size:9.2px">80</text>
<text x="569.3" y="66.2" class="lr" style="font-size:9.2px">[57,61]</text>
</svg>
</body></html>
